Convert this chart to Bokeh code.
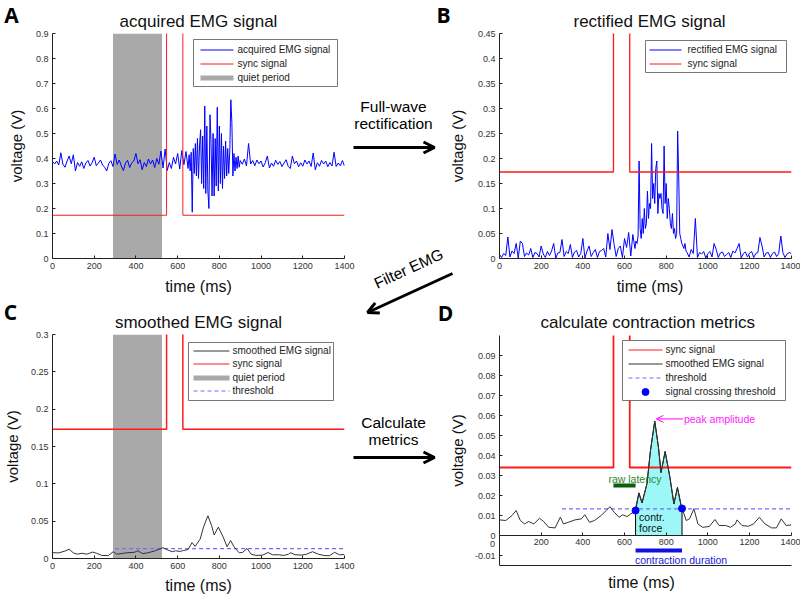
from bokeh.plotting import figure
from bokeh.models import (Range1d, FixedTicker, CustomJSTickFormatter, Label, Arrow, OpenHead,
                          BoxAnnotation, LinearAxis)
from bokeh.core.properties import value
from bokeh.layouts import column, row
from bokeh.embed import file_html
from bokeh.resources import INLINE

# ------------------------------------------------------------------ data
x_ticks = [0, 200, 400, 600, 800, 1000, 1200, 1400]
a_y_ticks = [0, 0.1, 0.2, 0.3, 0.4, 0.5, 0.6, 0.7, 0.8, 0.9]
b_y_ticks = [0, 0.05, 0.1, 0.15, 0.2, 0.25, 0.3, 0.35, 0.4, 0.45]
c_y_ticks = [0, 0.05, 0.1, 0.15, 0.2, 0.25, 0.3]
d_y_ticks = [-0.01, 0, 0.01, 0.02, 0.03, 0.04, 0.05, 0.06, 0.07, 0.08, 0.09]

emg_time = list(range(0, 650, 10)) + list(range(650, 900, 5)) + list(range(900, 1401, 10))

acquired_emg = [
    0.388, 0.378, 0.390, 0.374, 0.423, 0.377, 0.365, 0.390, 0.410, 0.379,
    0.415, 0.350, 0.384, 0.369, 0.387, 0.360, 0.382, 0.392, 0.370, 0.383,
    0.405, 0.371, 0.382, 0.394, 0.374, 0.365, 0.350, 0.381, 0.391, 0.368,
    0.418, 0.376, 0.394, 0.370, 0.352, 0.382, 0.393, 0.364, 0.383, 0.390,
    0.420, 0.379, 0.395, 0.355, 0.384, 0.368, 0.398, 0.378, 0.394, 0.364,
    0.400, 0.377, 0.430, 0.362, 0.438, 0.352, 0.384, 0.360, 0.405, 0.378,
    0.420, 0.358, 0.432, 0.375, 0.428,
    0.360, 0.415, 0.350, 0.425, 0.185, 0.440, 0.340, 0.460, 0.330, 0.480,
    0.320, 0.450, 0.515, 0.300, 0.490, 0.280, 0.610, 0.260, 0.530, 0.270,
    0.200, 0.575, 0.470, 0.250, 0.500, 0.250, 0.480, 0.290, 0.605, 0.270,
    0.530, 0.300, 0.500, 0.280, 0.450, 0.320, 0.470, 0.330, 0.440, 0.340,
    0.430, 0.635, 0.545, 0.330, 0.420, 0.350, 0.405, 0.360, 0.410, 0.365,
    0.392, 0.377, 0.398, 0.370, 0.460, 0.378, 0.392, 0.371, 0.394, 0.379,
    0.390, 0.366, 0.383, 0.410, 0.362, 0.382, 0.369, 0.393, 0.376, 0.388,
    0.368, 0.382, 0.395, 0.369, 0.360, 0.410, 0.379, 0.390, 0.367, 0.383,
    0.369, 0.394, 0.378, 0.390, 0.368, 0.422, 0.355, 0.383, 0.369, 0.392,
    0.378, 0.390, 0.367, 0.384, 0.370, 0.425, 0.368, 0.382, 0.371, 0.392, 0.370,
]

rectified_emg = [
    0.008, 0.002, 0.010, 0.006, 0.043, 0.003, 0.015, 0.010, 0.030, 0.001,
    0.035, 0.030, 0.004, 0.011, 0.007, 0.020, 0.002, 0.012, 0.010, 0.003,
    0.025, 0.009, 0.002, 0.014, 0.006, 0.015, 0.030, 0.001, 0.011, 0.012,
    0.038, 0.004, 0.014, 0.010, 0.028, 0.002, 0.013, 0.016, 0.003, 0.010,
    0.040, 0.001, 0.015, 0.025, 0.004, 0.012, 0.018, 0.002, 0.014, 0.016,
    0.020, 0.003, 0.050, 0.018, 0.058, 0.028, 0.004, 0.020, 0.025, 0.002,
    0.040, 0.022, 0.052, 0.005, 0.048,
    0.020, 0.035, 0.030, 0.045, 0.195, 0.060, 0.040, 0.080, 0.050, 0.100,
    0.060, 0.070, 0.135, 0.080, 0.110, 0.100, 0.230, 0.120, 0.150, 0.110,
    0.180, 0.195, 0.090, 0.130, 0.120, 0.130, 0.100, 0.090, 0.225, 0.110,
    0.150, 0.080, 0.120, 0.100, 0.070, 0.060, 0.090, 0.050, 0.060, 0.040,
    0.050, 0.255, 0.165, 0.050, 0.040, 0.030, 0.025, 0.020, 0.030, 0.015,
    0.012, 0.003, 0.018, 0.010, 0.080, 0.002, 0.012, 0.009, 0.014, 0.001,
    0.010, 0.014, 0.003, 0.030, 0.018, 0.002, 0.011, 0.013, 0.004, 0.008,
    0.012, 0.002, 0.015, 0.011, 0.020, 0.030, 0.001, 0.010, 0.013, 0.003,
    0.011, 0.014, 0.002, 0.010, 0.012, 0.042, 0.025, 0.003, 0.011, 0.012,
    0.002, 0.010, 0.013, 0.004, 0.010, 0.045, 0.012, 0.002, 0.009, 0.012, 0.010,
]

sync_time = [0, 547, 547, 625, 625, 1400]
sync_volt = [0.173, 0.173, 2.0, 2.0, 0.173, 0.173]
sync_volt_d = [0.034, 0.034, 2.0, 2.0, 0.034, 0.034]

smooth_time = [0, 30, 60, 80, 100, 120, 140, 165, 192, 212, 236, 267, 292, 307, 330,
               362, 393, 409, 432, 456, 488, 511, 530, 551, 574, 590, 613, 629, 650,
               669, 684, 708, 724, 745, 763, 775, 795, 818, 837, 854, 870, 880, 896,
               912, 933, 952, 975, 1007, 1034, 1054, 1085, 1109, 1132, 1140, 1164,
               1195, 1219, 1247, 1274, 1306, 1329, 1352, 1376, 1400]
smooth_emg = [0.0078, 0.0075, 0.0100, 0.0125, 0.0075, 0.0058, 0.0070, 0.0058, 0.0086,
              0.0070, 0.0041, 0.0038, 0.0092, 0.0058, 0.0066, 0.0078, 0.0083, 0.0104,
              0.0066, 0.0075, 0.0100, 0.0124, 0.0144, 0.0116, 0.0091, 0.0103, 0.0095,
              0.0108, 0.0120, 0.0213, 0.0163, 0.0260, 0.0420, 0.0572, 0.0440, 0.0315,
              0.0420, 0.0290, 0.0158, 0.0240, 0.0158, 0.0125, 0.0075, 0.0083, 0.0134,
              0.0058, 0.0041, 0.0045, 0.0080, 0.0050, 0.0050, 0.0041, 0.0058, 0.0078,
              0.0050, 0.0046, 0.0058, 0.0091, 0.0058, 0.0038, 0.0038, 0.0083, 0.0050,
              0.0053]

quiet_period = [290, 525]
threshold_span = [300, 1400]
threshold_level = 0.0133
cross_time = [653, 876]
cross_volt = [0.0125, 0.0135]
peak_time = 745
peak_volt = 0.0572

# ------------------------------------------------------------------ style
FONT = "Liberation Sans"
BLUE = "#0000ff"
RED = "#ff1a1a"
GRAY = "#a9a9a9"
DARK = "#333333"
THR = "#6e6eff"

fmt = CustomJSTickFormatter(code="return String(Number(tick.toFixed(4)));")


def style_axis(ax, label, size, ticks, label_standoff):
    ax.ticker = FixedTicker(ticks=ticks)
    ax.formatter = fmt
    ax.axis_label = label if label else None
    ax.axis_label_text_font = FONT
    ax.axis_label_text_font_size = size
    ax.axis_label_text_font_style = "normal"
    ax.axis_label_text_color = "#111"
    ax.axis_label_standoff = label_standoff
    ax.major_label_text_font = FONT
    ax.major_label_text_font_size = "9px"
    ax.major_label_text_color = "#333"
    ax.major_label_standoff = 4
    ax.major_tick_in = 3
    ax.major_tick_out = 0
    ax.minor_tick_in = 0
    ax.minor_tick_out = 0
    ax.minor_tick_line_color = None
    ax.axis_line_color = "#222"
    ax.major_tick_line_color = "#222"


def make_fig(w, h, borders, xr, yr, title, tstand, xaxis=True):
    bl, br, bt, bb = borders
    p = figure(width=w, height=h, x_range=Range1d(*xr), y_range=Range1d(*yr),
               output_backend="svg", toolbar_location=None, title=title,
               min_border_left=bl, min_border_right=br, min_border_top=bt, min_border_bottom=bb,
               x_axis_location="below" if xaxis else None)
    p.outline_line_color = None
    p.xgrid.visible = False
    p.ygrid.visible = False
    p.title.align = "center"
    p.title.text_font = FONT
    p.title.text_font_size = "17px"
    p.title.text_font_style = "normal"
    p.title.text_color = "#111"
    p.title.standoff = tstand
    return p


# right-hand panels: frame runs on to the canvas edge, axes stop at 1400 ms
right_x_end = 1400 * 308 / 298.5

# ------------------------------------------------------------------ panel A
pa = make_fig(445, 298, (45, 101, 33, 40), (0, 1400), (0, 0.9), "acquired EMG signal", 4.5)
style_axis(pa.xaxis[0], "time (ms)", "16px", x_ticks, 6)
style_axis(pa.yaxis[0], "voltage (V)", "15px", a_y_ticks, 8)
pa.add_layout(BoxAnnotation(left=quiet_period[0], right=quiet_period[1], fill_color=GRAY,
                            fill_alpha=1, line_color=None, level="underlay"))
pa.line(emg_time, acquired_emg, line_color=BLUE, line_width=1.0)
pa.line(sync_time, sync_volt, line_color=RED, line_width=1.0)

# ------------------------------------------------------------------ panel B
pb = make_fig(355, 298, (47, 0, 33, 40), (0, right_x_end), (0, 0.45), "rectified EMG signal", 4.5)
pb.title.align = "left"
pb.title.offset = 74
style_axis(pb.xaxis[0], "time (ms)", "16px", x_ticks, 6)
pb.xaxis[0].bounds = (0, 1400)
style_axis(pb.yaxis[0], "voltage (V)", "15px", b_y_ticks, 9)
pb.line(emg_time, rectified_emg, line_color=BLUE, line_width=1.0)
pb.line(sync_time, sync_volt, line_color=RED, line_width=1.3)

# ------------------------------------------------------------------ panel C
pc = make_fig(445, 298, (45, 101, 36, 38), (0, 1400), (0, 0.3), "smoothed EMG signal", 5.5)
style_axis(pc.xaxis[0], "time (ms)", "16px", x_ticks, 5)
style_axis(pc.yaxis[0], "voltage (V)", "15px", c_y_ticks, 7)
pc.add_layout(BoxAnnotation(left=quiet_period[0], right=quiet_period[1], fill_color=GRAY,
                            fill_alpha=1, line_color=None, level="underlay"))
pc.line(sync_time, sync_volt, line_color=RED, line_width=1.5)
pc.line(threshold_span, [threshold_level, threshold_level], line_color=THR,
        line_width=1.2, line_dash="4 3")
pc.line(smooth_time, smooth_emg, line_color=DARK, line_width=1.0)

# ------------------------------------------------------------------ panel D
pd_ = make_fig(355, 298, (47, 0, 37, 31), (0, right_x_end), (-0.015, 0.1),
               "calculate contraction metrics", 6.5, xaxis=False)
pd_.title.align = "left"
pd_.title.offset = 41
style_axis(pd_.yaxis[0], "voltage (V)", "15px", d_y_ticks, 6)
x_line = LinearAxis()
style_axis(x_line, "", "16px", [], 0)
x_line.major_label_standoff = 0
x_line.bounds = (0, 1400)
pd_.add_layout(x_line, "below")
x_zero = LinearAxis(fixed_location=0)
style_axis(x_zero, "", "16px", x_ticks, 0)
x_zero.formatter = CustomJSTickFormatter(code="return tick == 0 ? '' : String(tick);")
x_zero.major_label_standoff = 3
x_zero.bounds = (0, 1400)
pd_.add_layout(x_zero, "below")

fill_t = [cross_time[0]] + [t for t in smooth_time if cross_time[0] < t < cross_time[1]] + [cross_time[1]]
fill_v = [cross_volt[0]] + [v for t, v in zip(smooth_time, smooth_emg)
                            if cross_time[0] < t < cross_time[1]] + [cross_volt[1]]
pd_.patch([fill_t[0]] + fill_t + [fill_t[-1]], [0] + fill_v + [0],
          fill_color="#9ef7f7", line_color="black", line_width=1)
pd_.line(sync_time, sync_volt_d, line_color=RED, line_width=1.8)
pd_.line(threshold_span, [threshold_level, threshold_level], line_color=THR,
         line_width=1.2, line_dash="4 3")
pd_.line(smooth_time, smooth_emg, line_color=DARK, line_width=1.0)
pd_.scatter(cross_time, cross_volt, size=7, color=BLUE)

pd_.line([sync_time[1], cross_time[0]], [0.025, 0.025], line_color="#0b5e0b", line_width=4)
pd_.add_layout(Label(x=(sync_time[1] + cross_time[0]) / 2 + 50, y=0.0285, text="raw latency",
                     text_font=FONT, text_font_size="10.5px", text_color="#2a8a2a",
                     text_align="center", text_baseline="middle"))
pd_.line(cross_time, [-0.0075, -0.0075], line_color="#1010e0", line_width=4)
pd_.add_layout(Label(x=cross_time[0] - 3, y=-0.0122, text="contraction duration",
                     text_font=FONT, text_font_size="10.5px", text_color="#2020e0",
                     text_align="left", text_baseline="middle"))
pd_.add_layout(Label(x=cross_time[0] + 17, y=0.0091, text="contr.", text_font=FONT,
                     text_font_size="10.5px", text_color="#111", text_align="left",
                     text_baseline="middle"))
pd_.add_layout(Label(x=cross_time[0] + 17, y=0.0039, text="force", text_font=FONT,
                     text_font_size="10.5px", text_color="#111", text_align="left",
                     text_baseline="middle"))
pd_.add_layout(Arrow(end=OpenHead(size=7, line_width=1, line_color="#ff00ff"),
                     x_start=peak_time + 136, y_start=peak_volt + 0.0011,
                     x_end=peak_time + 8, y_end=peak_volt + 0.0011,
                     line_color="#ff00ff", line_width=1))
pd_.add_layout(Label(x=peak_time + 140, y=peak_volt + 0.0011, text="peak amplitude",
                     text_font=FONT, text_font_size="10.5px", text_color="#ff22ff",
                     text_align="left", text_baseline="middle"))

# ------------------------------------------------------------------ page overlay (page pixels)
ov = figure(width=800, height=596, x_range=Range1d(0, 800), y_range=Range1d(596, 0),
            output_backend="svg", toolbar_location=None, min_border=0,
            x_axis_location=None, y_axis_location=None,
            styles={"position": "absolute", "left": "0px", "top": "0px"})
ov.outline_line_color = None
ov.grid.visible = False
ov.background_fill_alpha = 0
ov.border_fill_alpha = 0


def ov_text(px, py, text, size, bold=False, angle=0.0, color="black"):
    ov.add_layout(Label(x=px, y=py, text=text, text_font="Open Sans" if bold else FONT,
                        text_font_size=size, text_font_style="bold" if bold else "normal",
                        angle=angle, text_align="center", text_baseline="middle",
                        text_color=color))


def ov_arrow(start, end):
    ov.add_layout(Arrow(end=OpenHead(size=11, line_width=3, line_color="black"),
                        x_start=start[0], y_start=start[1], x_end=end[0], y_end=end[1],
                        line_width=3, line_color="black"))


def ov_legend(box, rows, glyph_x, text_x, entries):
    left, right, top, bottom = box
    ov.quad(left=[left], right=[right], top=[top], bottom=[bottom], fill_color="white",
            line_color="#555", line_width=0.8)
    for (label, kind, color, width, dash), y in zip(entries, rows):
        if kind == "line":
            ov.line(x=list(glyph_x), y=[y, y], line_color=color, line_width=width,
                    line_dash=dash)
        else:
            ov.scatter(x=[(glyph_x[0] + glyph_x[1]) / 2], y=[y], size=7, color=color)
    ov.text(x=[text_x] * len(rows), y=[int(r) for r in rows], text=[e[0] for e in entries],
            text_font=value(FONT), text_font_size=value("10px"), text_color="#222",
            text_align="left", text_baseline="middle")


ov_legend((193, 337, 39, 86), [49.5, 63.5, 77.5], (200, 233), 237,
          [("acquired EMG signal", "line", BLUE, 1, "solid"),
           ("sync signal", "line", RED, 1, "solid"),
           ("quiet period", "line", GRAY, 5, "solid")])
ov_legend((645, 786, 40, 72), [49.5, 63.5], (649, 681), 687,
          [("rectified EMG signal", "line", BLUE, 1, "solid"),
           ("sync signal", "line", RED, 1, "solid")])
ov_legend((188, 333, 342, 400), [350.5, 363.5, 377.5, 390.5], (193, 229), 232,
          [("smoothed EMG signal", "line", DARK, 1, "solid"),
           ("sync signal", "line", RED, 1, "solid"),
           ("quiet period", "line", GRAY, 5, "solid"),
           ("threshold", "line", THR, 1, "4 3")])
ov_legend((622, 785, 340, 400), [349.5, 363.5, 377.5, 391.5], (628, 662), 665,
          [("sync signal", "line", RED, 1, "solid"),
           ("smoothed EMG signal", "line", DARK, 1, "solid"),
           ("threshold", "line", THR, 1, "4 3"),
           ("signal crossing threshold", "dot", BLUE, 1, "solid")])

for letter, px, py in (("A", 11, 14), ("B", 443, 14), ("C", 10, 311), ("D", 445, 312)):
    ov_text(px, py, letter, "21px", bold=True)
ov_text(393, 106, "Full-wave", "15.5px")
ov_text(393, 123, "rectification", "15.5px")
ov_arrow((353, 147), (434, 147))
ov_text(408, 268, "Filter EMG", "15.5px", angle=0.43)
ov_arrow((452, 273), (367, 312))
ov_text(393, 422, "Calculate", "15.5px")
ov_text(393, 439, "metrics", "15.5px")
ov_arrow((353, 457), (434, 457))
ov_text(641, 582, "time (ms)", "16px", color="#111")
ov_text(492, 543, "0", "9px", color="#333")

layout = column(row(column(pa, pc), column(pb, pd_)), ov)
open("out.html", "w").write(file_html(layout, INLINE))
